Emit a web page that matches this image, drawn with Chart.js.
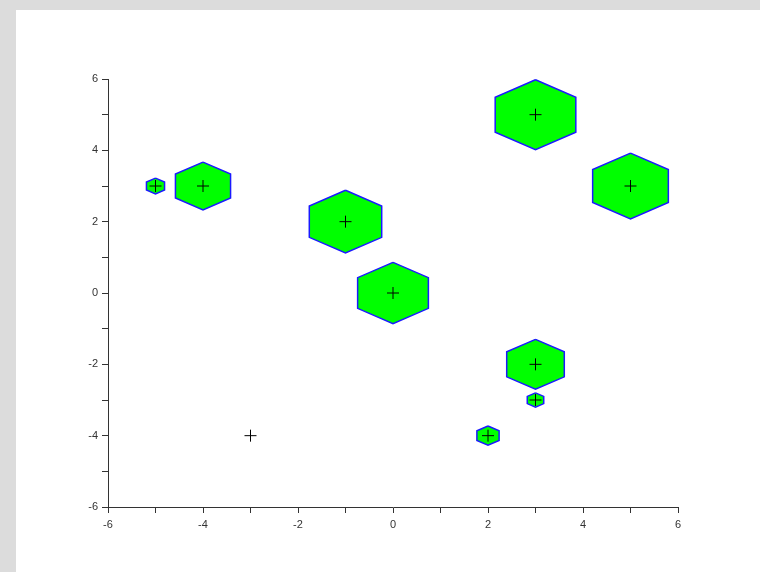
<!DOCTYPE html>
<html>
<head>
<meta charset="utf-8">
<script src="https://cdn.jsdelivr.net/npm/chart.js@4.4.1/dist/chart.umd.min.js"></script>
<style>
    html, body { margin: 0; padding: 0; background: #dcdcdc; }
    #wrap { position: absolute; left: 16px; top: 10px; width: 744px; height: 562px; background: #fff; }
</style>
</head>
<body>
<div id="wrap"><canvas id="chart" width="744" height="562"></canvas></div>
<script>
// ==================== 数据 ====================
const pointX = [-5, -4, -1, 0, 3, 5, 3, 3, 2, -3];
const pointY = [3, 3, 2, 0, 5, 3, -2, -3, -4, -4];
const hexRadius = [0.22, 0.67, 0.88, 0.86, 0.98, 0.92, 0.7, 0.2, 0.27, 0];
const axisLabels = [-6, -4, -2, 0, 2, 4, 6];

// ==================== 六边形顶点 ====================
function hexPoints(cx, cy, r) {
    const pts = [];
    for (let k = 0; k <= 6; k++) {
        const a = k * Math.PI / 3;
        pts.push({ x: cx + r * Math.sin(a), y: cy + r * Math.cos(a) });
    }
    return pts;
}

const datasets = [];

// 十字标记（最上层）
datasets.push({
    data: pointX.map((x, i) => ({ x: x, y: pointY[i] })),
    pointStyle: 'cross',
    pointRadius: 6,
    borderColor: '#000',
    borderWidth: 1,
    showLine: false,
    order: 0
});

// 六边形
pointX.forEach((x, i) => {
    datasets.push({
        data: hexPoints(x, pointY[i], hexRadius[i]),
        showLine: true,
        fill: 'shape',
        backgroundColor: '#00ff00',
        borderColor: '#1a1aff',
        borderWidth: 1.5,
        pointRadius: 0,
        tension: 0,
        order: 1
    });
});

function tickLabel(v) {
    return axisLabels.includes(v) ? String(v) : '';
}

const tickFont = { family: 'Liberation Sans, Arial, sans-serif', size: 11 };

new Chart(document.getElementById('chart'), {
    type: 'scatter',
    data: { datasets: datasets },
    options: {
        responsive: false,
        animation: false,
        layout: { padding: { left: 52, right: 82, top: 69, bottom: 35 } },
        plugins: { legend: { display: false }, tooltip: { enabled: false } },
        scales: {
            x: {
                type: 'linear',
                min: -6, max: 6,
                afterFit: s => { s.height = 30; },
                border: { display: true, color: '#333', width: 1 },
                grid: { drawOnChartArea: false, drawTicks: true, tickLength: 6, color: '#333' },
                ticks: { stepSize: 1, autoSkip: false, maxRotation: 0, padding: 5, color: '#333', font: tickFont, callback: tickLabel }
            },
            y: {
                type: 'linear',
                min: -6, max: 6,
                afterFit: s => { s.width = 40; },
                border: { display: true, color: '#333', width: 1 },
                grid: { drawOnChartArea: false, drawTicks: true, tickLength: 6, color: '#333' },
                ticks: { stepSize: 1, autoSkip: false, padding: 4, color: '#333', font: tickFont, callback: tickLabel }
            }
        }
    }
});
</script>
</body>
</html>
